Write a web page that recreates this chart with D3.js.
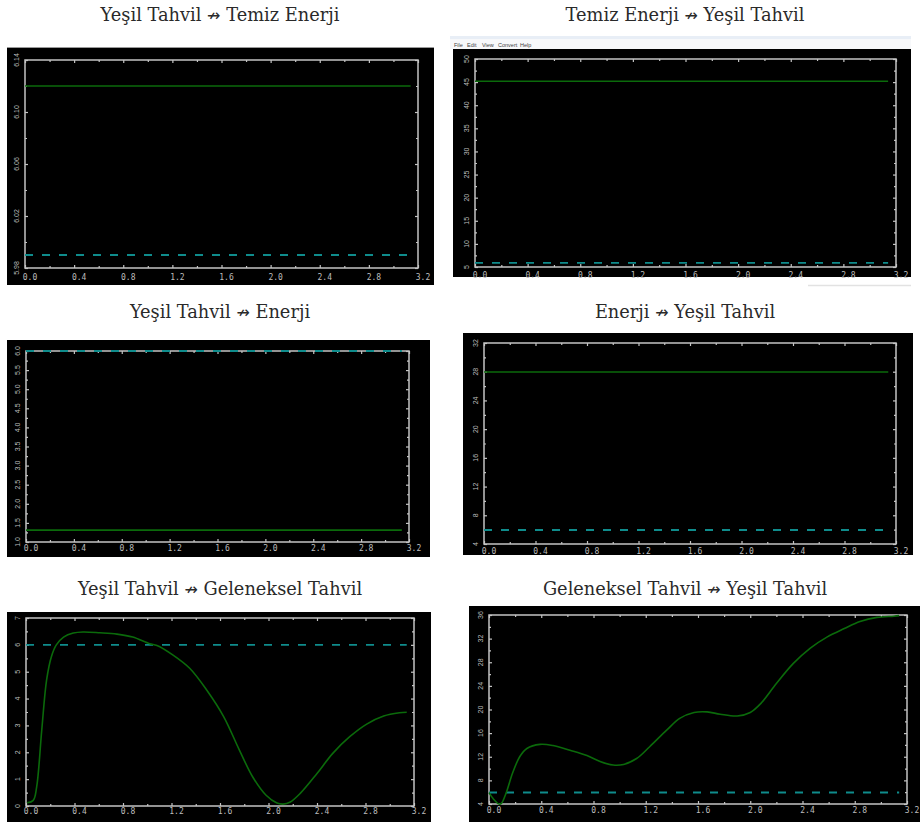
<!DOCTYPE html>
<html>
<head>
<meta charset="utf-8">
<script src="https://cdn.jsdelivr.net/npm/d3@7"></script>
<style>
  body { margin: 0; background: #fff; }
  svg { display: block; }
</style>
</head>
<body>
<div id="chart"></div>
<script>
// panel titles, left to right, top to bottom: [from, to]
const titles = [
  ["Yeşil Tahvil", "Temiz Enerji"],
  ["Temiz Enerji", "Yeşil Tahvil"],
  ["Yeşil Tahvil", "Enerji"],
  ["Enerji", "Yeşil Tahvil"],
  ["Yeşil Tahvil", "Geleneksel Tahvil"],
  ["Geleneksel Tahvil", "Yeşil Tahvil"]
];

// shared x axis (frequency, 0..pi)
const xTickLabels = ["0.0", "0.4", "0.8", "1.2", "1.6", "2.0", "2.4", "2.8", "3.2"];
const xEnd = 3.14;

// y tick labels for each panel
const yTicks1 = ["5.98", "6.02", "6.06", "6.10", "6.14"];
const yTicks2 = ["5", "10", "15", "20", "25", "30", "35", "40", "45", "50"];
const yTicks3 = ["1.0", "1.5", "2.0", "2.5", "3.0", "3.5", "4.0", "4.5", "5.0", "5.5", "6.0"];
const yTicks4 = ["4", "8", "12", "16", "20", "24", "28", "32"];
const yTicks5 = ["0", "1", "2", "3", "4", "5", "6", "7"];
const yTicks6 = ["4", "8", "12", "16", "20", "24", "28", "32", "36"];

// test statistic (flat in the first four panels)
const statFlat = [6.12, 45.2, 1.31, 27.96];
// critical value (dashed)
const criticalValues = [5.99, 5.9, 6.0, 5.95, 6.0, 5.95];

// Yesil Tahvil -> Geleneksel Tahvil
const gelX5 = [0.01, 0.06, 0.088, 0.13, 0.17, 0.21, 0.25, 0.31, 0.39, 0.47, 0.61, 0.75, 0.88, 1.02, 1.08,
  1.21, 1.35, 1.49, 1.63, 1.76, 1.87, 1.98, 2.07, 2.12, 2.18, 2.26, 2.40, 2.53, 2.67, 2.81, 2.95, 3.08, 3.14];
const gelY5 = [0.12, 0.21, 0.71, 2.83, 4.7, 5.57, 6.0, 6.29, 6.44, 6.48, 6.45, 6.40, 6.29, 6.04, 5.98,
  5.63, 5.13, 4.32, 3.33, 2.08, 1.08, 0.40, 0.11, 0.07, 0.15, 0.46, 1.21, 1.96, 2.58, 3.05, 3.35, 3.47, 3.49];

// Geleneksel Tahvil -> Yesil Tahvil
const gelX6 = [0, 0.03, 0.077, 0.095, 0.13, 0.18, 0.235, 0.29, 0.39, 0.49, 0.62, 0.75, 0.85, 0.95, 1.03,
  1.13, 1.23, 1.36, 1.46, 1.57, 1.67, 1.77, 1.90, 2.0, 2.08, 2.20, 2.33, 2.46, 2.59, 2.72, 2.84, 2.97, 3.1, 3.14];
const gelY6 = [5.92, 4.96, 4.0, 4.1, 5.8, 9.2, 12.0, 13.4, 14.1, 13.9, 13.1, 12.2, 11.2, 10.6, 10.7,
  11.7, 13.7, 16.5, 18.5, 19.5, 19.6, 19.2, 18.9, 19.5, 21.0, 24.4, 27.8, 30.4, 32.3, 33.7, 34.9, 35.6, 35.8, 35.9];

const yTickSets = [yTicks1, yTicks2, yTicks3, yTicks4, yTicks5, yTicks6];

// layout of each screenshot: black area, plot frame, title position, x label offset
const layout = [
  {bg: [7, 47, 434, 285], frame: [25, 60, 418, 268], tx: 220, ty: 21, xo: 12},
  {bg: [453, 49, 911, 277], frame: [475, 59, 896, 267], tx: 685, ty: 21, xo: 11},
  {bg: [7, 340, 430, 557], frame: [26, 351, 409, 542], tx: 220, ty: 318, xo: 9},
  {bg: [463, 333, 913, 555], frame: [484, 343, 896, 544], tx: 685, ty: 318, xo: 10},
  {bg: [7, 612, 431, 822], frame: [26, 618, 414, 806], tx: 220, ty: 595, xo: 8},
  {bg: [469, 606, 920, 822], frame: [489, 615, 907, 804], tx: 685, ty: 595, xo: 9}
];

const W = 920, H = 822;
const svg = d3.select("#chart").append("svg")
  .attr("width", W).attr("height", H);

const green = "#0b6a0b", teal = "#0f8c8c", frameCol = "#c4c4c4", labelCol = "#bdbdbd";

// menu strip above the second screenshot
svg.append("rect").attr("x", 450).attr("y", 36).attr("width", 461).attr("height", 13).attr("fill", "#f7f8fa");
svg.append("rect").attr("x", 450).attr("y", 36).attr("width", 461).attr("height", 3).attr("fill", "#e8eef6");
const menu = ["File", "Edit", "View", "Convert", "Help"];
const menuX = [454, 467, 482, 498, 520];
svg.selectAll(".menu").data(menu).enter().append("text")
  .attr("x", (d, i) => menuX[i]).attr("y", 47)
  .attr("font-family", "Liberation Sans, Arial, sans-serif").attr("font-size", 5.5)
  .attr("fill", "#444").text(d => d);
svg.append("line").attr("x1", 808).attr("x2", 911).attr("y1", 285.5).attr("y2", 285.5)
  .attr("stroke", "#e2e2e2").attr("stroke-width", 1.5);

layout.forEach((L, i) => {
  const g = svg.append("g");
  const [bx0, by0, bx1, by1] = L.bg;
  const [l, t, r, b] = L.frame;

  const title = g.append("text")
    .attr("x", L.tx).attr("y", L.ty)
    .attr("text-anchor", "middle")
    .attr("font-family", "DejaVu Serif, serif")
    .attr("font-size", 17.8)
    .attr("fill", "#2a2a2a");
  title.append("tspan").text(titles[i][0] + " ");
  title.append("tspan").attr("font-family", "DejaVu Sans").attr("font-size", 16).text("\u219B");
  title.append("tspan").text(" " + titles[i][1]);

  g.append("rect")
    .attr("x", bx0).attr("y", by0).attr("width", bx1 - bx0).attr("height", by1 - by0)
    .attr("fill", "#000");
  if (i === 0) {
    g.append("line").attr("x1", bx0).attr("x2", bx1).attr("y1", by0 + 0.5).attr("y2", by0 + 0.5)
      .attr("stroke", "#9a9a9a");
  }

  const yTicks = yTickSets[i].map(Number);
  const yMin = yTicks[0], yMax = yTicks[yTicks.length - 1];
  const x = d3.scaleLinear().domain([0, 3.2]).range([l, r]);
  const y = d3.scaleLinear().domain([yMin, yMax]).range([b, t]);

  const xMajor = xTickLabels.map(Number);
  const xMinor = d3.range(0.2, 3.2, 0.4);
  const yStep = yTicks[1] - yTicks[0];
  const yMinor = yTicks.slice(0, -1).map(v => v + yStep / 2);

  // frame
  g.append("rect")
    .attr("x", l).attr("y", t).attr("width", r - l).attr("height", b - t)
    .attr("fill", "none").attr("stroke", frameCol).attr("stroke-width", 1.5);

  const tickStyle = sel => {
    sel.select(".domain").remove();
    sel.selectAll(".tick line").attr("stroke", frameCol).attr("stroke-width", 1.2);
    sel.selectAll(".tick text").remove();
  };

  // ticks on all four sides, pointing inwards
  [[d3.axisBottom, b, xMajor, 3], [d3.axisBottom, b, xMinor, 2],
   [d3.axisTop, t, xMajor, 3], [d3.axisTop, t, xMinor, 2]].forEach(([ax, pos, vals, len]) => {
    g.append("g").attr("transform", `translate(0,${pos})`)
      .call(ax(x).tickValues(vals).tickSize(-len)).call(tickStyle);
  });
  [[d3.axisLeft, l, yTicks, 3], [d3.axisLeft, l, yMinor, 2],
   [d3.axisRight, r, yTicks, 3], [d3.axisRight, r, yMinor, 2]].forEach(([ax, pos, vals, len]) => {
    g.append("g").attr("transform", `translate(${pos},0)`)
      .call(ax(y).tickValues(vals).tickSize(-len)).call(tickStyle);
  });

  // tick labels
  g.selectAll(".xl").data(xTickLabels).enter().append("text")
    .attr("x", d => x(+d) + 5).attr("y", b + L.xo)
    .attr("text-anchor", "middle")
    .attr("font-family", "DejaVu Sans Mono, monospace").attr("font-size", 8)
    .attr("fill", labelCol).text(d => d);
  g.selectAll(".yl").data(yTickSets[i]).enter().append("text")
    .attr("transform", d => `translate(${l - 8},${y(+d)}) rotate(-90)`)
    .attr("text-anchor", "middle").attr("dy", "0.35em")
    .attr("font-family", "Liberation Sans, Arial, sans-serif").attr("font-size", 7)
    .attr("fill", labelCol).text(d => d);

  const line = d3.line().x(d => x(d[0])).y(d => y(d[1]));

  // critical value
  g.append("path")
    .datum([[0, criticalValues[i]], [xEnd, criticalValues[i]]])
    .attr("d", line)
    .attr("fill", "none").attr("stroke", teal).attr("stroke-width", 1.8)
    .attr("stroke-dasharray", "8,9");

  // test statistic
  let stat;
  if (i < 4) stat = [[0, statFlat[i]], [xEnd, statFlat[i]]];
  else if (i === 4) stat = gelX5.map((v, k) => [v, gelY5[k]]);
  else stat = gelX6.map((v, k) => [v, gelY6[k]]);
  g.append("path")
    .datum(stat)
    .attr("d", line.curve(d3.curveCatmullRom.alpha(0.5)))
    .attr("fill", "none").attr("stroke", green).attr("stroke-width", 1.6);
});
</script>
</body>
</html>
